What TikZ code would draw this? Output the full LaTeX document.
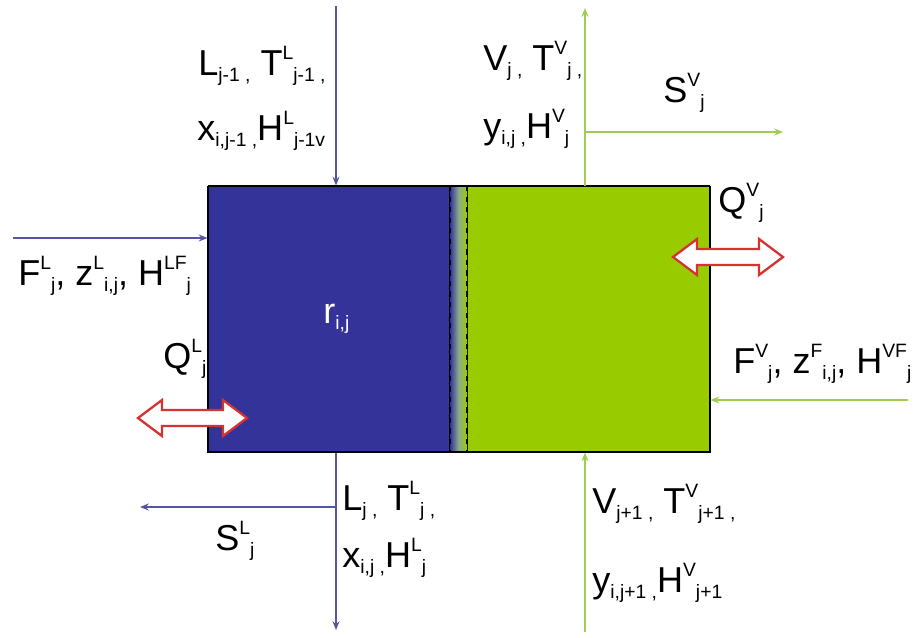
\documentclass[tikz,border=0pt]{standalone}
\usepackage{fontspec}
\setmainfont{Liberation Sans}
\usetikzlibrary{arrows.meta}
\definecolor{bluebox}{RGB}{51,51,153}
\definecolor{greenbox}{RGB}{153,204,0}
\definecolor{blueline}{RGB}{85,85,160}
\definecolor{greenline}{RGB}{160,204,80}
\definecolor{redarrow}{RGB}{215,50,50}
\definecolor{midband}{RGB}{140,170,140}
\newcommand\mysb[1]{\raisebox{-3.5pt}{\fontsize{11}{11}\selectfont #1}}
\newcommand\mysp[1]{\raisebox{9pt}{\fontsize{11}{11}\selectfont #1}}
\begin{document}
\begin{tikzpicture}[x=0.02cm,y=-0.02cm,
  lbl/.style={anchor=base west, inner sep=0pt, font=\fontsize{20.5}{24}\selectfont},
  box/.style={draw=black, line width=0.6pt, inner sep=0pt},
  bflow/.style={draw=blueline, line width=1.2pt, -{Stealth[length=5pt,width=4pt]}},
  gflow/.style={draw=greenline, line width=1.6pt, -{Stealth[length=5pt,width=4pt]}},
  heat/.style={draw=redarrow, line width=1.3pt, fill=white, line join=miter}]
\useasboundingbox (0,0) rectangle (920,637);
% boxes
\node[box, fill=bluebox, minimum width=4.84cm, minimum height=5.32cm] (liq) at (329,319) {};
\node[box, fill=greenbox, minimum width=4.86cm, minimum height=5.32cm] (vap) at (588.5,319) {};
\shade[left color=bluebox, right color=greenbox, middle color=midband] (450,186) rectangle (467,452);
\draw[line width=0.6pt] (208,186) -- (710,186) (208,452) -- (710,452);
\draw[dashed, line width=0.8pt] (450,186) -- (450,452);
\draw[dashed, line width=0.8pt] (467,186) -- (467,452);
\node[lbl, text=white] (r) at (323,323) {r\mysb{i,j}};
% coordinates
\coordinate (ltop) at (336,6);
\coordinate (lbot) at (336,630);
\coordinate (lbr) at (336,507);
\coordinate (sl) at (140,507);
\coordinate (fl) at (13,238);
\coordinate (gtop) at (585,8);
\coordinate (gbot) at (585,632);
\coordinate (gbr) at (585,132);
\coordinate (sv) at (783,132);
\coordinate (fv) at (908,400);
% liquid flows
\draw[bflow] (ltop) -- (ltop |- liq.north);
\draw[bflow] (liq.south -| lbot) -- (lbot);
\draw[bflow] (lbr) -- (sl);
\draw[bflow] (fl) -- (fl -| liq.west);
% vapor flows
\draw[gflow] (vap.north -| gtop) -- (gtop);
\draw[gflow] (gbot) -- (gbot |- vap.south);
\draw[gflow] (gbr) -- (sv);
\draw[gflow] (fv) -- (fv -| vap.east);
% heat arrows
\draw[heat] (138,418) -- (162,400) -- (162,410) -- (223,410) -- (223,400) -- (247,418) -- (223,436) -- (223,426) -- (162,426) -- (162,436) -- cycle;
\draw[heat] (673,257) -- (697,239) -- (697,249) -- (759,249) -- (759,239) -- (783,257) -- (759,275) -- (759,265) -- (697,265) -- (697,275) -- cycle;
% labels
\node[lbl] (a1) at (198,75) {L\mysb{j-1 ,} T\mysp{L}\mysb{j-1 ,}};
\node[lbl] (a2) at (197,140) {x\mysb{i,j-1 ,}H\mysp{L}\mysb{j-1v}};
\node[lbl] (b1) at (483,70) {V\mysb{j ,} T\mysp{V}\mysb{j ,}};
\node[lbl] (b2) at (483,138) {y\mysb{i,j ,}H\mysp{V}\mysb{j}};
\node[lbl] (b3) at (663,102) {S\mysp{V}\mysb{j}};
\node[lbl] (c1) at (18,285) {F\mysp{L}\mysb{j}, z\mysp{L}\mysb{i,j}, H\mysp{LF}\mysb{j}};
\node[lbl] (c2) at (163,368) {Q\mysp{L}\mysb{j}};
\node[lbl] (d1) at (718,212) {Q\mysp{V}\mysb{j}};
\node[lbl] (d2) at (733,373) {F\mysp{V}\mysb{j}, z\mysp{F}\mysb{i,j}, H\mysp{VF}\mysb{j}};
\node[lbl] (e1) at (342,510) {L\mysb{j ,} T\mysp{L}\mysb{j ,}};
\node[lbl] (e2) at (342,567) {x\mysb{i,j ,}H\mysp{L}\mysb{j}};
\node[lbl] (e3) at (215,550) {S\mysp{L}\mysb{j}};
\node[lbl] (f1) at (592,513) {V\mysb{j+1 ,} T\mysp{V}\mysb{j+1 ,}};
\node[lbl] (f2) at (592,592) {y\mysb{i,j+1 ,}H\mysp{V}\mysb{j+1}};
\end{tikzpicture}
\end{document}
